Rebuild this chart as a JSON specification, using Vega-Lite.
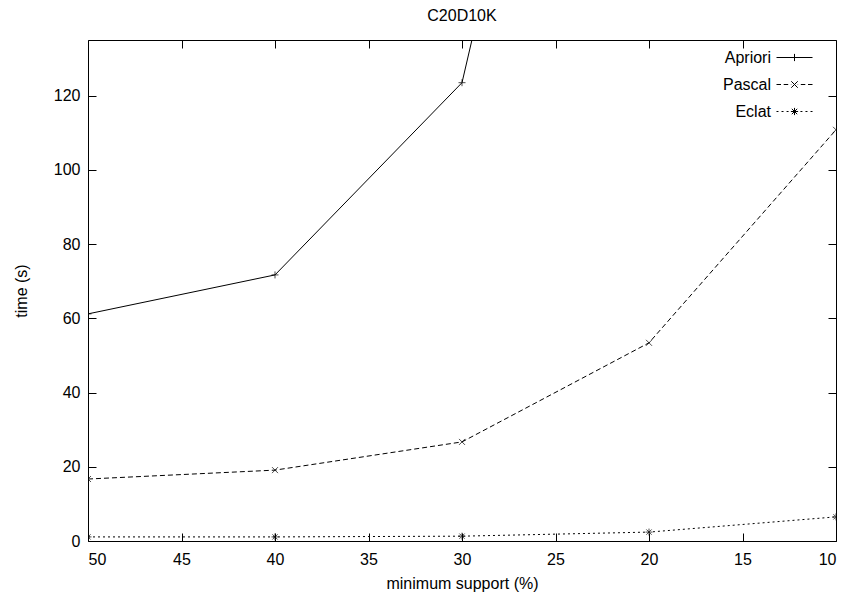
{
  "$schema": "https://vega.github.io/schema/vega-lite/v6.json",
  "width": 748,
  "height": 501,
  "autosize": {"type": "none"},
  "padding": {"left": 88, "top": 40, "right": 12, "bottom": 60},
  "background": "white",
  "title": {"text": "C20D10K", "font": "Liberation Sans", "fontSize": 16, "fontWeight": "normal", "color": "black", "offset": 15, "anchor": "middle"},
  "config": {
    "view": {"stroke": "black", "strokeWidth": 1},
    "axis": {"grid": false, "domain": false, "tickColor": "black", "tickSize": -8, "labelFont": "Liberation Sans", "labelFontSize": 16, "labelColor": "black", "titleFont": "Liberation Sans", "titleFontSize": 16, "titleFontWeight": "normal", "titleColor": "black"},
    "legend": {"labelFont": "Liberation Sans", "labelFontSize": 16, "labelColor": "black"}
  },
  "data": {"values": [
    {"support": 50, "time": 61.2, "series": "Apriori"},
    {"support": 40, "time": 71.7, "series": "Apriori"},
    {"support": 30, "time": 123.5, "series": "Apriori"},
    {"support": 20, "time": 340, "series": "Apriori"},
    {"support": 50, "time": 16.7, "series": "Pascal"},
    {"support": 40, "time": 19.1, "series": "Pascal"},
    {"support": 30, "time": 26.7, "series": "Pascal"},
    {"support": 20, "time": 53.4, "series": "Pascal"},
    {"support": 10, "time": 110.8, "series": "Pascal"},
    {"support": 50, "time": 1.1, "series": "Eclat"},
    {"support": 40, "time": 1.1, "series": "Eclat"},
    {"support": 30, "time": 1.3, "series": "Eclat"},
    {"support": 20, "time": 2.4, "series": "Eclat"},
    {"support": 10, "time": 6.5, "series": "Eclat"}
  ]},
  "layer": [
    {
      "transform": [{"filter": "datum.series === 'Apriori'"}],
      "mark": {"type": "line", "color": "black", "strokeWidth": 1, "clip": true},
      "encoding": {
        "x": {"field": "support", "type": "quantitative", "scale": {"domain": [50, 10], "nice": false, "zero": false}, "axis": {"orient": "bottom", "values": [50, 45, 40, 35, 30, 25, 20, 15, 10], "labelPadding": 18, "title": "minimum support (%)", "titlePadding": 8}},
        "y": {"field": "time", "type": "quantitative", "scale": {"domain": [0, 135], "nice": false, "zero": false}, "axis": {"orient": "left", "values": [0, 20, 40, 60, 80, 100, 120], "labelPadding": 16, "title": "time (s)", "titlePadding": 24}}
      }
    },
    {
      "transform": [{"filter": "datum.series === 'Pascal'"}],
      "mark": {"type": "line", "color": "black", "strokeWidth": 1, "strokeDash": [5, 3], "clip": true},
      "encoding": {
        "x": {"field": "support", "type": "quantitative", "axis": null},
        "y": {"field": "time", "type": "quantitative", "axis": null}
      }
    },
    {
      "transform": [{"filter": "datum.series === 'Eclat'"}],
      "mark": {"type": "line", "color": "black", "strokeWidth": 1, "strokeDash": [2, 3], "clip": true},
      "encoding": {
        "x": {"field": "support", "type": "quantitative", "axis": null},
        "y": {"field": "time", "type": "quantitative", "axis": null}
      }
    },
    {
      "mark": {"type": "point", "filled": false, "color": "transparent", "strokeWidth": 1, "clip": true},
      "encoding": {
        "x": {"field": "support", "type": "quantitative", "axis": {"orient": "top", "values": [50, 45, 40, 35, 30, 25, 20, 15, 10], "labels": false, "title": null}},
        "y": {"field": "time", "type": "quantitative", "axis": {"orient": "right", "values": [0, 20, 40, 60, 80, 100, 120], "labels": false, "title": null}},
        "shape": {"field": "series", "type": "nominal", "scale": {"domain": ["Apriori", "Pascal", "Eclat"], "range": [
          "M-1,0L1,0M0,-0.2L0,0.2",
          "M-1,0L-0.75,0M-0.6,0L-0.35,0M-0.2,0L-0.18,0M0.18,0L0.2,0M0.35,0L0.6,0M0.75,0L1,0M-0.18,-0.18L0.18,0.18M-0.18,0.18L0.18,-0.18",
          "M-1,0L-0.89,0M-0.72,0L-0.61,0M-0.44,0L-0.33,0M0.33,0L0.44,0M0.61,0L0.72,0M0.89,0L1,0M-0.2,0L0.2,0M0,-0.2L0,0.2M-0.15,-0.15L0.15,0.15M-0.15,0.15L0.15,-0.15"
        ]}, "legend": {
          "title": null, "orient": "none", "legendX": 688, "legendY": -1, "padding": 0, "symbolSize": 1296, "symbolStrokeWidth": 1, "symbolOpacity": 1, "symbolStrokeColor": "black", "symbolFillColor": "transparent", "rowPadding": -10,
          "labelAlign": "right", "labelOffset": -42
        }}
      }
    },
    {
      "transform": [{"filter": "datum.series === 'Apriori'"}],
      "mark": {"type": "point", "shape": "M-1,0L1,0M0,-1L0,1", "filled": false, "color": "black", "strokeWidth": 1, "size": 49, "clip": true},
      "encoding": {
        "x": {"field": "support", "type": "quantitative", "axis": null},
        "y": {"field": "time", "type": "quantitative", "axis": null}
      }
    },
    {
      "transform": [{"filter": "datum.series === 'Pascal'"}],
      "mark": {"type": "point", "shape": "M-1,-1L1,1M-1,1L1,-1", "filled": false, "color": "black", "strokeWidth": 1, "size": 36, "clip": true},
      "encoding": {
        "x": {"field": "support", "type": "quantitative", "axis": null},
        "y": {"field": "time", "type": "quantitative", "axis": null}
      }
    },
    {
      "transform": [{"filter": "datum.series === 'Eclat'"}],
      "mark": {"type": "point", "shape": "M-1,0L1,0M0,-1L0,1M-0.75,-0.75L0.75,0.75M-0.75,0.75L0.75,-0.75", "filled": false, "color": "black", "strokeWidth": 1, "size": 49, "clip": true},
      "encoding": {
        "x": {"field": "support", "type": "quantitative", "axis": null},
        "y": {"field": "time", "type": "quantitative", "axis": null}
      }
    }
  ],
  "resolve": {"axis": {"x": "independent", "y": "independent"}}
}
